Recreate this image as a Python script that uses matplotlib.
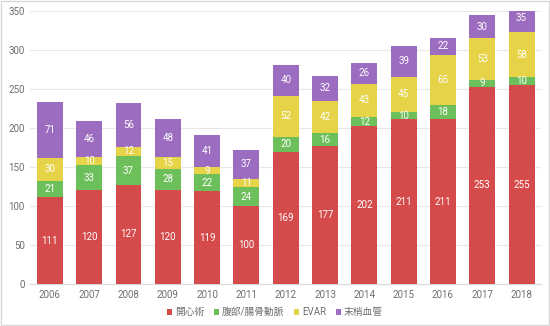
import matplotlib.pyplot as plt
import numpy as np

years = ["2006", "2007", "2008", "2009", "2010", "2011", "2012",
         "2013", "2014", "2015", "2016", "2017", "2018"]
series_names = ["開心術", "腹部/腸骨動脈", "EVAR", "末梢血管"]
open_heart = [111, 120, 127, 120, 119, 100, 169, 177, 202, 211, 211, 253, 255]
abdominal = [21, 33, 37, 28, 22, 24, 20, 16, 12, 10, 18, 9, 10]
evar = [30, 10, 12, 15, 9, 11, 52, 42, 43, 45, 65, 53, 58]
peripheral = [71, 46, 56, 48, 41, 37, 40, 32, 26, 39, 22, 30, 35]
colors = ["#d54a4a", "#6cbf5a", "#e6d348", "#9c6cc0"]

plt.rcParams["font.family"] = ["Roboto", "Noto Sans CJK JP", "DejaVu Sans"]

fig = plt.figure(figsize=(5.5, 3.26), dpi=100)
ax = fig.add_axes([0.055, 0.129, 0.929, 0.837])

x = np.arange(len(years))
bottom = np.zeros(len(years))
for name, vals, c in zip(series_names, [open_heart, abdominal, evar, peripheral], colors):
    vals = np.array(vals)
    ax.bar(x, vals, 0.66, bottom=bottom, color=c, label=name, zorder=3)
    for xi, b, v in zip(x, bottom, vals):
        ax.text(xi, b + v / 2, str(v), ha="center", va="center",
                color="white", fontsize=7, zorder=4)
    bottom += vals

ax.set_xlim(-0.5, len(years) - 0.5)
ax.set_ylim(0, 350)
ax.set_yticks(range(0, 351, 50))
ax.set_xticks(x)
ax.set_xticklabels(years)
ax.tick_params(length=0, labelsize=7, colors="#6e6e6e", pad=4)
ax.grid(axis="y", color="#e8e8e8", linewidth=0.8, zorder=0)
for s in ["top", "right", "left"]:
    ax.spines[s].set_visible(False)
ax.spines["bottom"].set_color("#d9d9d9")

leg = fig.legend(loc="lower center", bbox_to_anchor=(0.5, 0.0), ncol=4,
                 frameon=False, fontsize=7, handlelength=0.5, handleheight=0.5,
                 handletextpad=0.3, columnspacing=1.0)
for t in leg.get_texts():
    t.set_color("#6e6e6e")

fig.patches.append(plt.Rectangle((0.002, 0.003), 0.996, 0.994, transform=fig.transFigure,
                                 fill=False, edgecolor="#d9d9d9", linewidth=1))
fig.savefig("out.png", dpi=100)
